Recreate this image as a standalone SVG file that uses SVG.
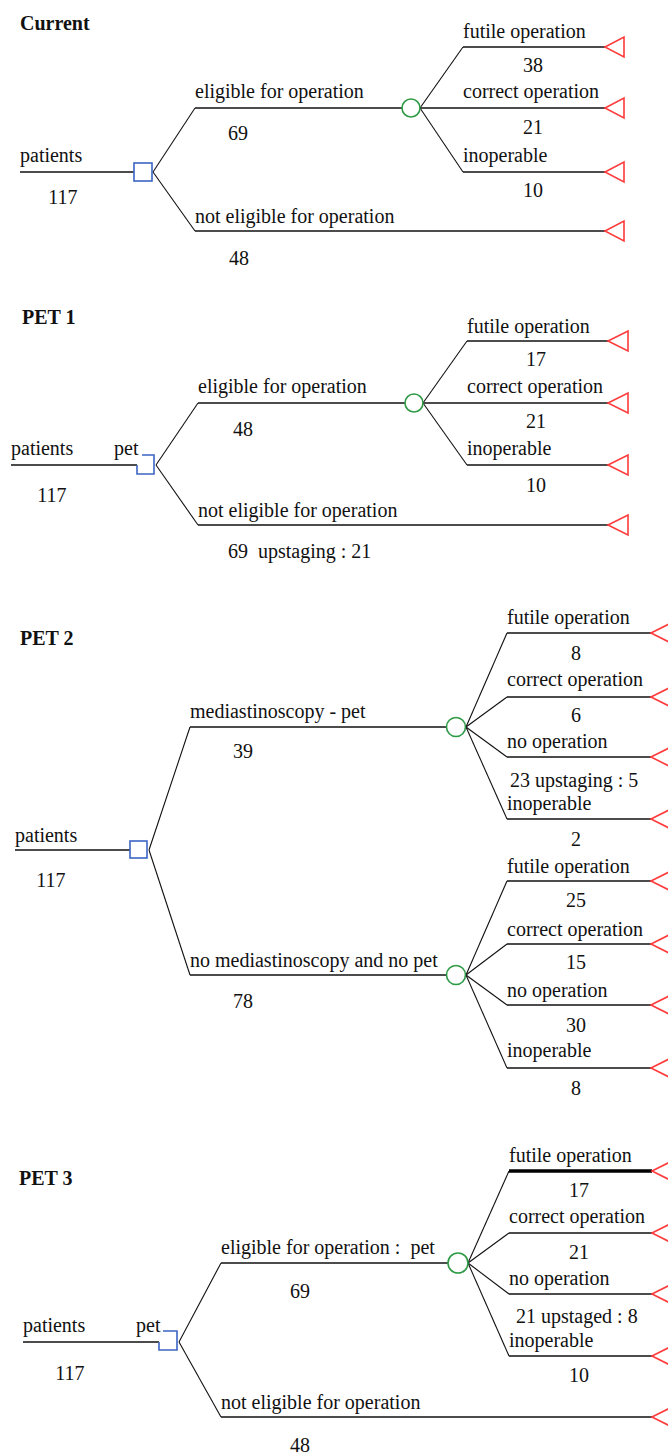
<svg xmlns="http://www.w3.org/2000/svg" width="668" height="1455" viewBox="0 0 668 1455">
  <style>
    text { font-family: "Liberation Serif", "DejaVu Serif", serif; font-weight: normal; font-size: 20px; fill: #111; white-space: pre; }
    text.title { font-weight: bold; }
    .num { text-anchor: middle; }
    .edge { fill: none; stroke: #111; stroke-width: 1.6; }
    .diag { fill: none; stroke: #111; stroke-width: 1.1; }
    .thick { fill: none; stroke: #000; stroke-width: 3.5; }
    .decision { fill: #fff; stroke: #3b64c4; stroke-width: 1.6; }
    .chance { fill: #fff; stroke: #2e9a45; stroke-width: 1.6; }
    .terminal { fill: #fff; stroke: #ff3b3b; stroke-width: 1.6; stroke-linejoin: miter; }
  </style>
  <rect width="668" height="1455" fill="#fff"/>

  <!-- ===== Tree 1: Current ===== -->
  <g id="tree-current">
    <text class="title" x="20" y="30">Current</text>
    <g id="current-connectors">
      <path class="edge" d="M20,172 H134"/>
      <path class="diag" d="M153,172 L195,108"/>
      <path class="edge" d="M195,108 H402"/>
      <path class="diag" d="M153,172 L195,231"/>
      <path class="edge" d="M195,231 H605"/>
      <path class="diag" d="M420,108 L463,47"/>
      <path class="edge" d="M463,47 H605"/>
      <path class="edge" d="M420,108 H605"/>
      <path class="diag" d="M420,108 L463,172"/>
      <path class="edge" d="M463,172 H605"/>
    </g>
    <g id="current-labels">
      <text x="20" y="162">patients</text>
      <text class="num" x="63" y="204">117</text>
      <text x="195" y="98">eligible for operation</text>
      <text class="num" x="238" y="140">69</text>
      <text x="195" y="223">not eligible for operation</text>
      <text class="num" x="239" y="265">48</text>
      <text x="463" y="38">futile operation</text>
      <text class="num" x="533" y="72">38</text>
      <text x="463" y="98">correct operation</text>
      <text class="num" x="533" y="134">21</text>
      <text x="463" y="162">inoperable</text>
      <text class="num" x="533" y="197">10</text>
    </g>
    <g id="current-decision"><rect class="decision" x="134" y="163" width="18" height="18"/></g>
    <g id="current-chance"><circle class="chance" cx="411" cy="108" r="9"/></g>
    <g id="current-terminals">
      <polygon class="terminal" points="605,47 624,37 624,57"/>
      <polygon class="terminal" points="605,108 624,98 624,118"/>
      <polygon class="terminal" points="605,172 624,162 624,182"/>
      <polygon class="terminal" points="605,231 624,221 624,241"/>
    </g>
  </g>

  <!-- ===== Tree 2: PET 1 ===== -->
  <g id="tree-pet1">
    <text class="title" x="22" y="324">PET 1</text>
    <g id="pet1-connectors">
      <path class="edge" d="M11,465 H137"/>
      <path class="diag" d="M156,465 L198,403"/>
      <path class="edge" d="M198,403 H405"/>
      <path class="diag" d="M156,465 L198,525"/>
      <path class="edge" d="M198,525 H608"/>
      <path class="diag" d="M423,403 L467,341"/>
      <path class="edge" d="M467,341 H608"/>
      <path class="edge" d="M423,403 H608"/>
      <path class="diag" d="M423,403 L467,465"/>
      <path class="edge" d="M467,465 H608"/>
    </g>
    <g id="pet1-labels">
      <text x="11" y="455">patients</text>
      <text x="114" y="455">pet</text>
      <text class="num" x="52" y="502">117</text>
      <text x="198" y="393">eligible for operation</text>
      <text class="num" x="243" y="436">48</text>
      <text x="198" y="517">not eligible for operation</text>
      <text x="228" y="558">69  upstaging : 21</text>
      <text x="467" y="333">futile operation</text>
      <text class="num" x="536" y="366">17</text>
      <text x="467" y="393">correct operation</text>
      <text class="num" x="536" y="428">21</text>
      <text x="467" y="455">inoperable</text>
      <text class="num" x="536" y="492">10</text>
    </g>
    <g id="pet1-decision"><path class="decision" fill="none" d="M142,455 H154 V474 H137 V465"/></g>
    <g id="pet1-chance"><circle class="chance" cx="414" cy="403" r="9"/></g>
    <g id="pet1-terminals">
      <polygon class="terminal" points="608,341 628,331 628,351"/>
      <polygon class="terminal" points="608,403 628,393 628,413"/>
      <polygon class="terminal" points="608,465 628,455 628,475"/>
      <polygon class="terminal" points="608,525 628,515 628,535"/>
    </g>
  </g>

  <!-- ===== Tree 3: PET 2 ===== -->
  <g id="tree-pet2">
    <text class="title" x="20" y="645">PET 2</text>
    <g id="pet2-connectors">
      <path class="edge" d="M15,850 H130"/>
      <path class="diag" d="M149,850 L190,727"/>
      <path class="edge" d="M190,727 H447"/>
      <path class="diag" d="M149,850 L190,975"/>
      <path class="edge" d="M190,975 H447"/>
      <!-- upper chance branches -->
      <path class="diag" d="M466,727 L507,633"/>
      <path class="edge" d="M507,633 H651"/>
      <path class="diag" d="M466,727 L507,697"/>
      <path class="edge" d="M507,697 H651"/>
      <path class="diag" d="M466,727 L507,757"/>
      <path class="edge" d="M507,757 H651"/>
      <path class="diag" d="M466,727 L507,819"/>
      <path class="edge" d="M507,819 H651"/>
      <!-- lower chance branches -->
      <path class="diag" d="M466,975 L507,881"/>
      <path class="edge" d="M507,881 H651"/>
      <path class="diag" d="M466,975 L507,944"/>
      <path class="edge" d="M507,944 H651"/>
      <path class="diag" d="M466,975 L507,1005"/>
      <path class="edge" d="M507,1005 H651"/>
      <path class="diag" d="M466,975 L507,1068"/>
      <path class="edge" d="M507,1068 H651"/>
    </g>
    <g id="pet2-labels">
      <text x="15" y="842">patients</text>
      <text class="num" x="51" y="887">117</text>
      <text x="190" y="718">mediastinoscopy - pet</text>
      <text class="num" x="243" y="758">39</text>
      <text x="190" y="967">no mediastinoscopy and no pet</text>
      <text class="num" x="243" y="1008">78</text>
      <text x="507" y="624">futile operation</text>
      <text class="num" x="576" y="660">8</text>
      <text x="507" y="686">correct operation</text>
      <text class="num" x="576" y="722">6</text>
      <text x="507" y="748">no operation</text>
      <text x="510" y="787">23 upstaging : 5</text>
      <text x="507" y="810">inoperable</text>
      <text class="num" x="576" y="846">2</text>
      <text x="507" y="873">futile operation</text>
      <text class="num" x="576" y="907">25</text>
      <text x="507" y="936">correct operation</text>
      <text class="num" x="576" y="969">15</text>
      <text x="507" y="997">no operation</text>
      <text class="num" x="576" y="1032">30</text>
      <text x="507" y="1057">inoperable</text>
      <text class="num" x="576" y="1095">8</text>
    </g>
    <g id="pet2-decision"><rect class="decision" x="130" y="841" width="17" height="17"/></g>
    <g id="pet2-chance-upper"><circle class="chance" cx="456" cy="727" r="9.5"/></g>
    <g id="pet2-chance-lower"><circle class="chance" cx="456" cy="975" r="9.5"/></g>
    <g id="pet2-terminals">
      <polygon class="terminal" points="651,633 671,623 671,643"/>
      <polygon class="terminal" points="651,697 671,687 671,707"/>
      <polygon class="terminal" points="651,757 671,747 671,767"/>
      <polygon class="terminal" points="651,819 671,809 671,829"/>
      <polygon class="terminal" points="651,881 671,871 671,891"/>
      <polygon class="terminal" points="651,944 671,934 671,954"/>
      <polygon class="terminal" points="651,1005 671,995 671,1015"/>
      <polygon class="terminal" points="651,1068 671,1058 671,1078"/>
    </g>
  </g>

  <!-- ===== Tree 4: PET 3 ===== -->
  <g id="tree-pet3">
    <text class="title" x="19" y="1185">PET 3</text>
    <g id="pet3-connectors">
      <path class="edge" d="M23,1342 H159"/>
      <path class="diag" d="M179,1342 L221,1263"/>
      <path class="edge" d="M221,1263 H448"/>
      <path class="diag" d="M179,1342 L221,1417"/>
      <path class="edge" d="M221,1417 H652"/>
      <path class="diag" d="M468,1263 L509,1171"/>
      <path class="thick" d="M509,1171 H652"/>
      <path class="diag" d="M468,1263 L509,1233"/>
      <path class="edge" d="M509,1233 H652"/>
      <path class="diag" d="M468,1263 L509,1294"/>
      <path class="edge" d="M509,1294 H652"/>
      <path class="diag" d="M468,1263 L509,1356"/>
      <path class="edge" d="M509,1356 H652"/>
    </g>
    <g id="pet3-labels">
      <text x="23" y="1332">patients</text>
      <text x="136" y="1332">pet</text>
      <text class="num" x="70" y="1380">117</text>
      <text x="221" y="1254">eligible for operation :  pet</text>
      <text class="num" x="300" y="1298">69</text>
      <text x="221" y="1409">not eligible for operation</text>
      <text class="num" x="300" y="1452">48</text>
      <text x="509" y="1162">futile operation</text>
      <text class="num" x="579" y="1197">17</text>
      <text x="509" y="1223">correct operation</text>
      <text class="num" x="579" y="1259">21</text>
      <text x="509" y="1285">no operation</text>
      <text x="516" y="1323">21 upstaged : 8</text>
      <text x="509" y="1347">inoperable</text>
      <text class="num" x="579" y="1382">10</text>
    </g>
    <g id="pet3-decision"><path class="decision" fill="none" d="M163,1331 H177 V1350 H159 V1342"/></g>
    <g id="pet3-chance"><circle class="chance" cx="458" cy="1263" r="10"/></g>
    <g id="pet3-terminals">
      <polygon class="terminal" points="652,1171 672,1161 672,1181"/>
      <polygon class="terminal" points="652,1233 672,1223 672,1243"/>
      <polygon class="terminal" points="652,1294 672,1284 672,1304"/>
      <polygon class="terminal" points="652,1356 672,1346 672,1366"/>
      <polygon class="terminal" points="652,1417 672,1407 672,1427"/>
    </g>
  </g>
</svg>
